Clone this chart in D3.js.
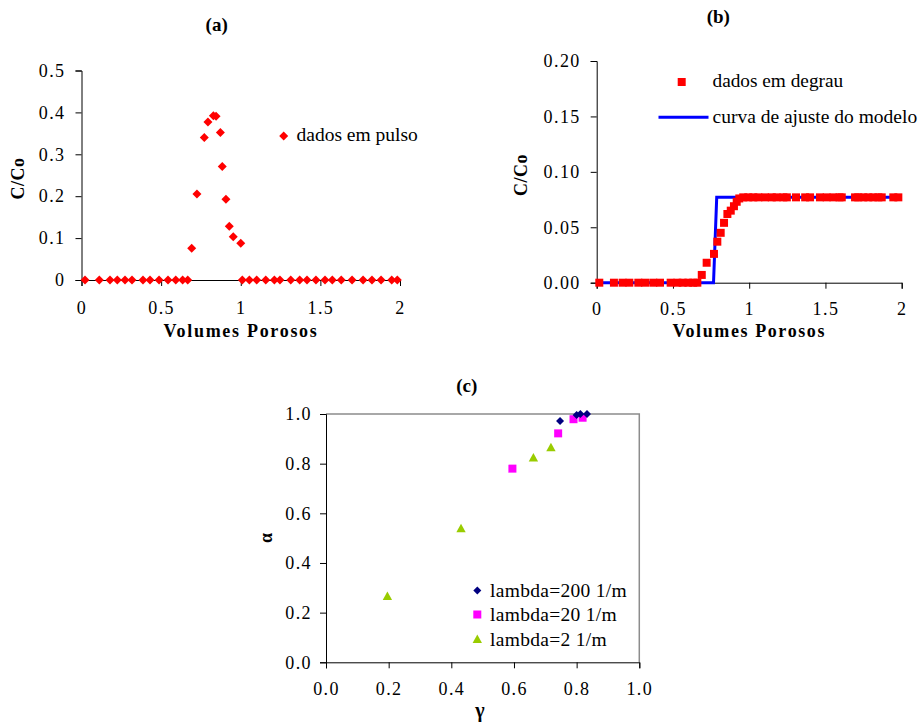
<!DOCTYPE html>
<html>
<head>
<meta charset="utf-8">
<script src="https://cdn.jsdelivr.net/npm/d3@7"></script>
<style>
  html, body { margin: 0; padding: 0; background: #fff; }
  svg { display: block; font-family: "Liberation Serif", "Times New Roman", serif; }
  .tick text { font-size: 18px; letter-spacing: 1.4px; fill: #000; }
  .tick line, .domain { stroke: #000; stroke-width: 1; }
</style>
</head>
<body>
<svg id="chart" width="922" height="726"></svg>
<script>
// (a) pulse injection: relative concentration vs pore volumes
const pulseX = [0.022, 0.112, 0.179, 0.225, 0.273, 0.317, 0.386, 0.430, 0.487, 0.543, 0.592, 0.635, 0.667,
                0.692, 0.725, 0.771, 0.794, 0.828, 0.845, 0.872, 0.884, 0.907, 0.928, 0.953, 1.000,
                1.010, 1.054, 1.100, 1.157, 1.211, 1.246, 1.314, 1.370, 1.416, 1.472, 1.529, 1.575,
                1.631, 1.699, 1.768, 1.824, 1.881, 1.948, 1.983];
const pulseY = [0, 0, 0, 0, 0, 0, 0, 0, 0, 0, 0, 0, 0,
                0.076, 0.205, 0.340, 0.377, 0.392, 0.391, 0.352, 0.271, 0.193, 0.128, 0.103, 0.088,
                0, 0, 0, 0, 0, 0, 0, 0, 0, 0, 0, 0,
                0, 0, 0, 0, 0, 0, 0];

// (b) step injection data and fitted model curve
const stepX = [0.017, 0.113, 0.170, 0.214, 0.273, 0.317, 0.371, 0.415, 0.485, 0.529, 0.564, 0.601, 0.633, 0.660,
               0.689, 0.721, 0.769, 0.791, 0.813, 0.835, 0.857, 0.879, 0.900, 0.918, 0.935,
               0.961, 0.994, 1.027, 1.060, 1.104, 1.148, 1.180, 1.224, 1.247, 1.307, 1.367, 1.399, 1.464,
               1.508, 1.552, 1.592, 1.607, 1.694, 1.715, 1.748, 1.781, 1.814, 1.847, 1.869, 1.945, 1.978];
const stepY = [0, 0, 0, 0, 0, 0, 0, 0, 0, 0, 0, 0, 0, 0,
               0.007, 0.018, 0.026, 0.037, 0.045, 0.054, 0.062, 0.065, 0.069, 0.073, 0.076,
               0.077, 0.077, 0.077, 0.077, 0.077, 0.077, 0.077, 0.077, 0.077, 0.077, 0.077, 0.077, 0.077,
               0.077, 0.077, 0.077, 0.077, 0.077, 0.077, 0.077, 0.077, 0.077, 0.077, 0.077, 0.077, 0.077];
const modelX = [0, 0.766, 0.787, 2.0];
const modelY = [0, 0, 0.077, 0.077];

// (c) alpha vs gamma for three lambda values
const seriesNames = ["lambda=200 1/m", "lambda=20 1/m", "lambda=2 1/m"];
const l200X = [0.747, 0.800, 0.812, 0.833];
const l200Y = [0.972, 0.996, 1.000, 1.000];
const l20X = [0.595, 0.741, 0.790, 0.819];
const l20Y = [0.780, 0.922, 0.979, 0.985];
const l2X = [0.196, 0.431, 0.662, 0.718];
const l2Y = [0.265, 0.537, 0.822, 0.864];

const ticksA_X = [0, 0.5, 1, 1.5, 2];
const ticksA_Y = [0, 0.1, 0.2, 0.3, 0.4, 0.5];
const ticksB_Y = [0, 0.05, 0.10, 0.15, 0.20];
const ticksC = [0, 0.2, 0.4, 0.6, 0.8, 1.0];

const svg = d3.select("#chart");
const zip = (xs, ys) => xs.map((x, i) => [x, ys[i]]);

const diamondPath = r => `M0,${-r}L${r},0L0,${r}L${-r},0Z`;
const squarePath = s => `M${-s/2},${-s/2}h${s}v${s}h${-s}Z`;
const trianglePath = s => `M0,${-s*0.6}L${s*0.55},${s*0.4}L${-s*0.55},${s*0.4}Z`;

function styleAxis(g) {
  g.select(".domain").attr("stroke", "#000");
  g.selectAll(".tick line").attr("stroke", "#000");
  g.selectAll(".tick text").attr("font-family", "Liberation Serif, Times New Roman, serif");
}

function title(txt, x, y) {
  svg.append("text").attr("x", x).attr("y", y).attr("text-anchor", "middle")
    .attr("font-weight", "bold").attr("font-size", 19).text(txt);
}
function xTitle(txt, x, y, ls) {
  svg.append("text").attr("x", x).attr("y", y).attr("text-anchor", "middle")
    .attr("font-weight", "bold").attr("font-size", 18).attr("letter-spacing", ls).text(txt);
}
function yTitle(txt, x, y, ls) {
  svg.append("text").attr("transform", `translate(${x},${y}) rotate(-90)`)
    .attr("text-anchor", "middle").attr("dominant-baseline", "middle")
    .attr("font-weight", "bold").attr("font-size", 18).attr("letter-spacing", ls).text(txt);
}

// ---------- Panel (a) ----------
{
  const x = d3.scaleLinear().domain([0, 2]).range([81.5, 400]);
  const y = d3.scaleLinear().domain([0, 0.5]).range([280, 70.5]);
  svg.append("g").attr("transform", `translate(0,${y(0)})`)
    .call(d3.axisBottom(x).tickValues(ticksA_X).tickFormat(d3.format("")).tickSizeOuter(0).tickSize(6).tickPadding(15))
    .call(styleAxis);
  svg.append("g").attr("transform", `translate(${x(0)},0)`)
    .call(d3.axisLeft(y).tickValues(ticksA_Y).tickFormat(d3.format("")).tickSizeOuter(0).tickSize(6).tickPadding(10))
    .call(styleAxis);
  svg.append("g").selectAll("path").data(zip(pulseX, pulseY)).join("path")
    .attr("d", diamondPath(4.5)).attr("fill", "#ff0000")
    .attr("transform", d => `translate(${x(d[0])},${y(d[1])})`);
  // legend
  svg.append("path").attr("d", diamondPath(4.5)).attr("fill", "#ff0000")
    .attr("transform", "translate(283.7,136)");
  svg.append("text").attr("x", 296.5).attr("y", 141).attr("font-size", 19.5).text("dados em pulso");
  title("(a)", 216.7, 31);
  xTitle("Volumes Porosos", 241, 336.5, 1.7);
  yTitle("C/Co", 20, 178.5, 0.5);
}

// ---------- Panel (b) ----------
{
  const x = d3.scaleLinear().domain([0, 2]).range([596.7, 901.7]);
  const y = d3.scaleLinear().domain([0, 0.20]).range([282.7, 61]);
  svg.append("g").attr("transform", `translate(0,${y(0)})`)
    .call(d3.axisBottom(x).tickValues(ticksA_X).tickFormat(d3.format("")).tickSizeOuter(0).tickSize(6).tickPadding(14))
    .call(styleAxis);
  svg.append("g").attr("transform", `translate(${x(0)},0)`)
    .call(d3.axisLeft(y).tickValues(ticksB_Y).tickFormat(d3.format(".2f")).tickSizeOuter(0).tickSize(6).tickPadding(10))
    .call(styleAxis);
  const line = d3.line().x(d => x(d[0])).y(d => y(d[1]));
  svg.append("path").datum(zip(modelX, modelY)).attr("d", line)
    .attr("fill", "none").attr("stroke", "#0000ff").attr("stroke-width", 3);
  svg.append("g").selectAll("path").data(zip(stepX, stepY)).join("path")
    .attr("d", squarePath(8)).attr("fill", "#ff0000")
    .attr("transform", d => `translate(${x(d[0])},${y(d[1])})`);
  // legend
  svg.append("path").attr("d", squarePath(8)).attr("fill", "#ff0000")
    .attr("transform", "translate(681.7,82)");
  svg.append("text").attr("x", 712.5).attr("y", 87).attr("font-size", 19.3).text("dados em degrau");
  svg.append("line").attr("x1", 658.5).attr("x2", 708.5).attr("y1", 117.3).attr("y2", 117.3)
    .attr("stroke", "#0000ff").attr("stroke-width", 3);
  svg.append("text").attr("x", 712.5).attr("y", 123).attr("font-size", 19.5).text("curva de ajuste do modelo");
  title("(b)", 718.3, 23);
  xTitle("Volumes Porosos", 749.3, 337, 1.6);
  yTitle("C/Co", 523.3, 175, 0.5);
}

// ---------- Panel (c) ----------
{
  const x = d3.scaleLinear().domain([0, 1]).range([326, 639.3]);
  const y = d3.scaleLinear().domain([0, 1]).range([662.3, 414]);
  // plot area border
  svg.append("path")
    .attr("d", `M${x(0)},${y(1)}H${x(1)}V${y(0)}`)
    .attr("fill", "none").attr("stroke", "#8c8c8c").attr("stroke-width", 1.5);
  svg.append("g").attr("transform", `translate(0,${y(0)})`)
    .call(d3.axisBottom(x).tickValues(ticksC).tickFormat(d3.format(".1f")).tickSizeOuter(0).tickSize(6).tickPadding(14))
    .call(styleAxis);
  svg.append("g").attr("transform", `translate(${x(0)},0)`)
    .call(d3.axisLeft(y).tickValues(ticksC).tickFormat(d3.format(".1f")).tickSizeOuter(0).tickSize(6).tickPadding(8))
    .call(styleAxis);

  const series = [
    { pts: zip(l200X, l200Y), d: diamondPath(4), color: "#000080" },
    { pts: zip(l20X, l20Y), d: squarePath(8), color: "#ff00ff" },
    { pts: zip(l2X, l2Y), d: trianglePath(8.5), color: "#99cc00" }
  ];
  // draw the lowest lambda first so larger lambda markers sit on top
  [2, 1, 0].forEach(i => {
    const s = series[i];
    svg.append("g").selectAll("path").data(s.pts).join("path")
      .attr("d", s.d).attr("fill", s.color)
      .attr("transform", d => `translate(${x(d[0])},${y(d[1])})`);
  });
  // legend
  const legY = [590.5, 614.5, 639.5];
  series.forEach((s, i) => {
    svg.append("path").attr("d", s.d).attr("fill", s.color)
      .attr("transform", `translate(477.3,${legY[i]})`);
    svg.append("text").attr("x", 490).attr("y", legY[i] + 6.5).attr("font-size", 19.5)
      .attr("letter-spacing", 0.3).text(seriesNames[i]);
  });
  title("(c)", 466.7, 392);
  svg.append("text").attr("x", 480).attr("y", 717).attr("text-anchor", "middle")
    .attr("font-weight", "bold").attr("font-size", 20).text("γ");
  yTitle("α", 268, 538, 0);
}
</script>
</body>
</html>
